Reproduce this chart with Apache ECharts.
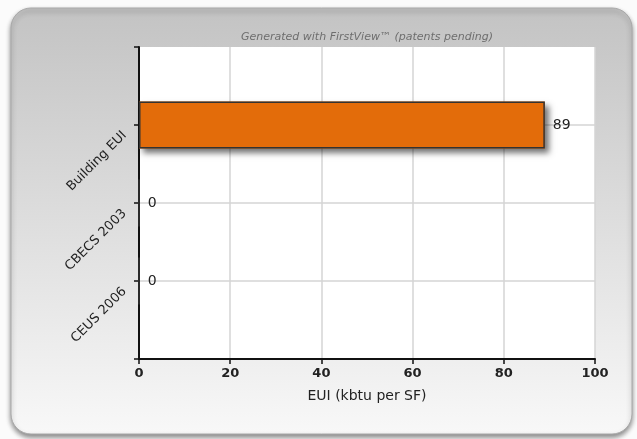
<!DOCTYPE html>
<html><head><meta charset="utf-8">
<script src="https://cdn.jsdelivr.net/npm/echarts@6/dist/echarts.min.js"></script>
<style>html,body{margin:0;padding:0;background:#fbfbfb;}#c{width:637px;height:439px;}</style>
</head><body><div id="c"></div>
<script>
var categories = ['Building EUI', 'CBECS 2003', 'CEUS 2006'];
var values = [89, 0, 0];
var xTicks = [0, 20, 40, 60, 80, 100];

var cats = [''].concat(categories).concat(['']);
var vals = [null].concat(values).concat([null]);
var shadowVals = vals.map(function (v) {
  return v ? v : {value: v, itemStyle: {shadowBlur: 0, shadowOffsetX: 0, shadowOffsetY: 0, shadowColor: 'transparent'}};
});
var font = '"DejaVu Sans", sans-serif';

var chart = echarts.init(document.getElementById('c'), null, {renderer: 'canvas'});
chart.setOption({
  animation: false,
  graphic: [
    {type: 'rect', z: -10, shape: {x: 11, y: 8, width: 621, height: 426, r: 20},
     style: {fill: new echarts.graphic.LinearGradient(0, 0, 0, 1, [
       {offset: 0, color: '#c3c3c3'}, {offset: 1, color: '#f8f8f8'}]),
       stroke: '#a8a8a8', lineWidth: 1,
       shadowBlur: 5, shadowOffsetY: 3, shadowOffsetX: 0, shadowColor: 'rgba(0,0,0,0.45)'}},
    {type: 'text', x: 367, y: 32, z: 5,
     style: {text: 'Generated with FirstView\u2122 (patents pending)', align: 'center',
       fill: '#6e6e6e', font: 'italic 11px ' + font}}
  ],
  grid: {left: 139, top: 47, width: 456, height: 312, show: true, backgroundColor: '#fff', borderWidth: 0},
  xAxis: {
    type: 'value', min: xTicks[0], max: xTicks[xTicks.length - 1], interval: 20,
    name: 'EUI (kbtu per SF)', nameLocation: 'middle', nameGap: 30,
    nameTextStyle: {fontSize: 14, color: '#222', fontFamily: font},
    axisLine: {show: true, lineStyle: {color: '#111', width: 2}},
    axisTick: {show: true, length: 5, lineStyle: {color: '#111', width: 1.5}},
    axisLabel: {fontSize: 13, fontWeight: 'bold', color: '#222', fontFamily: font, margin: 8},
    splitLine: {show: true, lineStyle: {color: '#d4d4d4', width: 1.5}}
  },
  yAxis: {
    type: 'category', data: cats, inverse: true, boundaryGap: false,
    axisLine: {show: true, lineStyle: {color: '#111', width: 2}},
    axisTick: {show: true, length: 5, lineStyle: {color: '#111', width: 1.5}},
    axisLabel: {rotate: 45, fontSize: 13, color: '#222', fontFamily: font, margin: 6, padding: [0, 12, 0, 0]},
    splitLine: {show: true, interval: function (i) { return i > 0 && i < cats.length - 1; },
      lineStyle: {color: '#d4d4d4', width: 1.5}}
  },
  series: [{
    type: 'bar', data: shadowVals, barWidth: 47, barGap: '-100%', silent: true,
    itemStyle: {color: '#e36c0a', borderWidth: 0,
      shadowBlur: 6, shadowOffsetX: 4, shadowOffsetY: 4, shadowColor: 'rgba(0,0,0,0.55)'}
  }, {
    type: 'bar', data: vals, barWidth: 47, barGap: '-100%',
    itemStyle: {color: '#e36c0a', borderColor: '#333', borderWidth: 1.5},
    label: {show: true, position: 'right', distance: 8, fontSize: 14, color: '#222', fontFamily: font}
  }]
});
</script></body></html>
